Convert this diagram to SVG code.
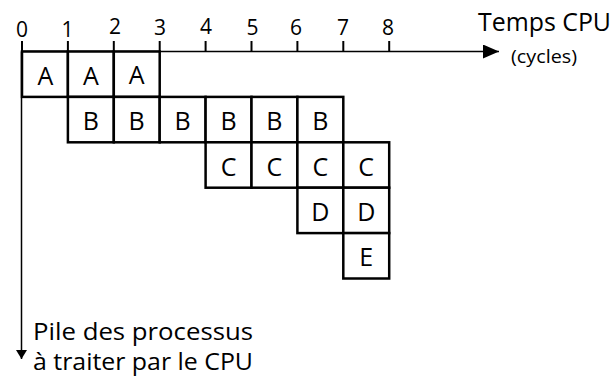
<svg xmlns="http://www.w3.org/2000/svg" width="614" height="381" viewBox="0 0 614 381">
<style>
  text { font-family: "Open Sans", "Liberation Sans", sans-serif; fill: #000; }
  .cell rect { fill: #fff; stroke: #000; stroke-width: 2.5; }
  .cell text { font-size: 25px; text-anchor: middle; }
  .num { font-size: 21px; text-anchor: middle; }
  .axis { stroke: #000; stroke-width: 1.5; fill: none; }
  .tick { stroke: #000; stroke-width: 2; }
  .lbl { font-size: 24.5px; }
</style>
<defs>
  <marker id="ah" viewBox="0 0 16 14" refX="16" refY="7" markerWidth="16" markerHeight="14" markerUnits="userSpaceOnUse" orient="auto">
    <path d="M0,0 L16,7 L0,14 Z" fill="#000"/>
  </marker>
  <marker id="av" viewBox="0 0 9 11" refX="9" refY="5.5" markerWidth="9" markerHeight="11" markerUnits="userSpaceOnUse" orient="auto">
    <path d="M0,0 L9,5.5 L0,11 Z" fill="#000"/>
  </marker>
</defs>
<rect width="614" height="381" fill="#fff"/>

<g id="connectors">
  <line class="axis" x1="22" y1="51.5" x2="499" y2="51.5" marker-end="url(#ah)"/>
  <line class="axis" x1="21.5" y1="51.5" x2="21.5" y2="359" marker-end="url(#av)"/>
  <g id="ticks">
    <line class="tick" x1="22" y1="41" x2="22" y2="51.5"/>
    <line class="tick" x1="67.9" y1="41" x2="67.9" y2="51.5"/>
    <line class="tick" x1="113.8" y1="41" x2="113.8" y2="51.5"/>
    <line class="tick" x1="159.7" y1="41" x2="159.7" y2="51.5"/>
    <line class="tick" x1="205.6" y1="41" x2="205.6" y2="51.5"/>
    <line class="tick" x1="251.5" y1="41" x2="251.5" y2="51.5"/>
    <line class="tick" x1="297.4" y1="41" x2="297.4" y2="51.5"/>
    <line class="tick" x1="343.3" y1="41" x2="343.3" y2="51.5"/>
    <line class="tick" x1="389.2" y1="41" x2="389.2" y2="51.5"/>
  </g>
</g>

<g id="tick-labels">
  <text class="num" x="22" y="37">0</text>
  <text class="num" x="67.5" y="37">1</text>
  <text class="num" x="115" y="34">2</text>
  <text class="num" x="160" y="35">3</text>
  <text class="num" x="206" y="34">4</text>
  <text class="num" x="252.5" y="35">5</text>
  <text class="num" x="296" y="35">6</text>
  <text class="num" x="343" y="35">7</text>
  <text class="num" x="388" y="35">8</text>
</g>

<g id="row-A">
  <g id="A0" class="cell"><rect x="22" y="51.5" width="45.9" height="45.4"/><text x="45.5" y="85">A</text></g>
  <g id="A1" class="cell"><rect x="67.9" y="51.5" width="45.9" height="45.4"/><text x="90.8" y="85">A</text></g>
  <g id="A2" class="cell"><rect x="113.8" y="51.5" width="45.9" height="45.4"/><text x="136.7" y="84">A</text></g>
</g>
<g id="row-B">
  <g id="B1" class="cell"><rect x="67.9" y="96.9" width="45.9" height="45.4"/><text x="90.8" y="130">B</text></g>
  <g id="B2" class="cell"><rect x="113.8" y="96.9" width="45.9" height="45.4"/><text x="136.7" y="130">B</text></g>
  <g id="B3" class="cell"><rect x="159.7" y="96.9" width="45.9" height="45.4"/><text x="182.6" y="130">B</text></g>
  <g id="B4" class="cell"><rect x="205.6" y="96.9" width="45.9" height="45.4"/><text x="228.5" y="130">B</text></g>
  <g id="B5" class="cell"><rect x="251.5" y="96.9" width="45.9" height="45.4"/><text x="274.4" y="130">B</text></g>
  <g id="B6" class="cell"><rect x="297.4" y="96.9" width="45.9" height="45.4"/><text x="320.3" y="130">B</text></g>
</g>
<g id="row-C">
  <g id="C4" class="cell"><rect x="205.6" y="142.3" width="45.9" height="45.4"/><text x="228.5" y="175.5">C</text></g>
  <g id="C5" class="cell"><rect x="251.5" y="142.3" width="45.9" height="45.4"/><text x="274.4" y="175.5">C</text></g>
  <g id="C6" class="cell"><rect x="297.4" y="142.3" width="45.9" height="45.4"/><text x="320.3" y="175.5">C</text></g>
  <g id="C7" class="cell"><rect x="343.3" y="142.3" width="45.9" height="45.4"/><text x="366.2" y="175.5">C</text></g>
</g>
<g id="row-D">
  <g id="D6" class="cell"><rect x="297.4" y="187.7" width="45.9" height="45.4"/><text x="320.3" y="221">D</text></g>
  <g id="D7" class="cell"><rect x="343.3" y="187.7" width="45.9" height="45.4"/><text x="366.2" y="221">D</text></g>
</g>
<g id="row-E">
  <g id="E7" class="cell"><rect x="343.3" y="233.1" width="45.9" height="45.4"/><text x="366.2" y="266">E</text></g>
</g>

<g id="axis-labels">
  <text x="478" y="30.5" font-size="25" textLength="133" lengthAdjust="spacingAndGlyphs">Temps CPU</text>
  <text x="511" y="62.5" font-size="18.5" textLength="66" lengthAdjust="spacingAndGlyphs">(cycles)</text>
  <text class="lbl" x="33" y="340" textLength="220" lengthAdjust="spacingAndGlyphs">Pile des processus</text>
  <text class="lbl" x="33" y="369.5" textLength="220" lengthAdjust="spacingAndGlyphs">à traiter par le CPU</text>
</g>
</svg>
